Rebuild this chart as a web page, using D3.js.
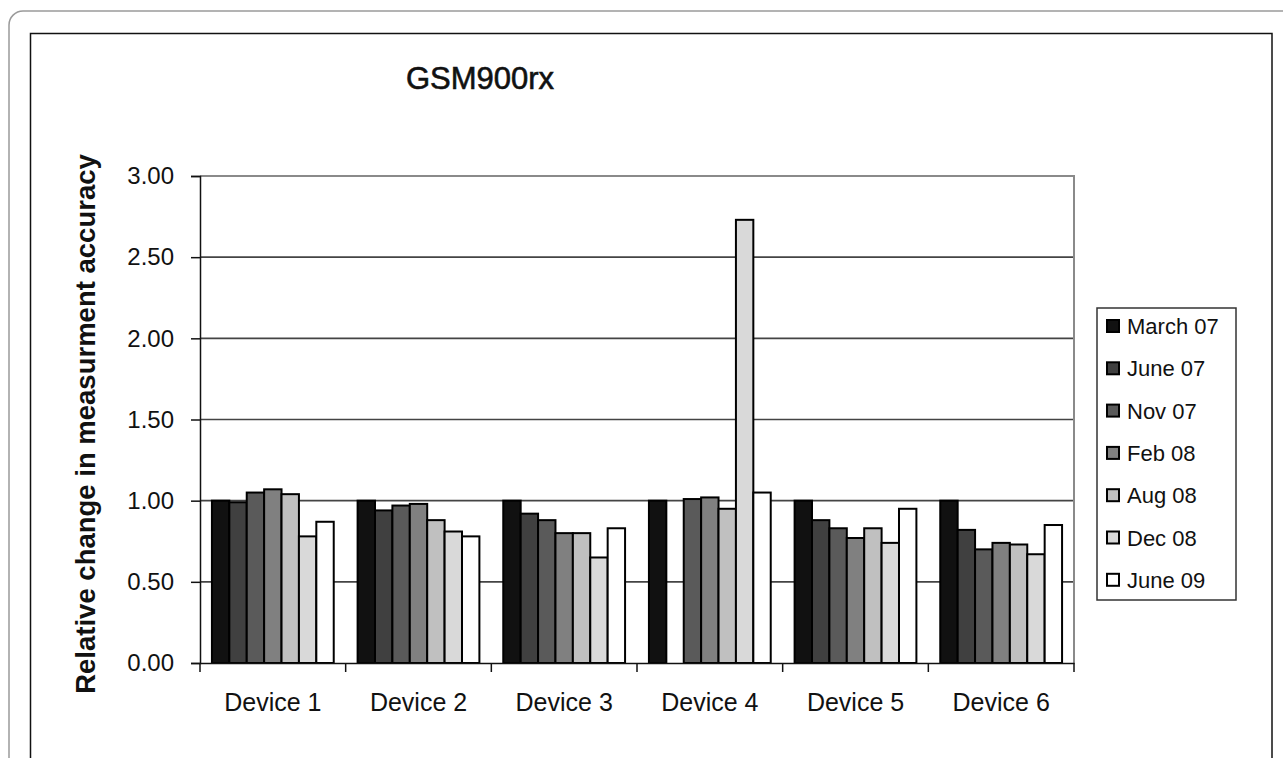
<!DOCTYPE html>
<html>
<head>
<meta charset="utf-8">
<script src="https://cdn.jsdelivr.net/npm/d3@7"></script>
<style>
  html, body { margin: 0; padding: 0; background: #fff; }
  svg { display: block; font-family: "Liberation Sans", Arial, sans-serif; }
</style>
</head>
<body>
<svg id="chart" width="1283" height="758"></svg>
<script>
// ---- data ----
const devices = ["Device 1", "Device 2", "Device 3", "Device 4", "Device 5", "Device 6"];
const seriesNames = ["March 07", "June 07", "Nov 07", "Feb 08", "Aug 08", "Dec 08", "June 09"];
const march07 = [1.00, 1.00, 1.00, 1.00, 1.00, 1.00];
const june07  = [0.99, 0.94, 0.92, null, 0.88, 0.82];
const nov07   = [1.05, 0.97, 0.88, 1.01, 0.83, 0.70];
const feb08   = [1.07, 0.98, 0.80, 1.02, 0.77, 0.74];
const aug08   = [1.04, 0.88, 0.80, 0.95, 0.83, 0.73];
const dec08   = [0.78, 0.81, 0.65, 2.73, 0.74, 0.67];
const june09  = [0.87, 0.78, 0.83, 1.05, 0.95, 0.85];
const yTickValues = [0, 0.5, 1.0, 1.5, 2.0, 2.5, 3.0];
const seriesColors = ["#111111", "#404040", "#5a5a5a", "#808080", "#c0c0c0", "#d9d9d9", "#ffffff"];

const seriesValues = [march07, june07, nov07, feb08, aug08, dec08, june09];

// ---- layout ----
const plot = { left: 200, right: 1074, top: 176, bottom: 663 };
const svg = d3.select("#chart");

// frames
svg.append("rect")
  .attr("x", 9).attr("y", 11).attr("width", 1300).attr("height", 800)
  .attr("rx", 14).attr("fill", "none").attr("stroke", "#9a9a9a").attr("stroke-width", 1.5);
svg.append("rect")
  .attr("x", 30.5).attr("y", 33.5).attr("width", 1241.5).attr("height", 800)
  .attr("fill", "none").attr("stroke", "#111").attr("stroke-width", 1.5);

// scales
const x0 = d3.scaleBand().domain(devices).range([plot.left, plot.right]).padding(0);
const x1 = d3.scaleBand().domain(seriesNames).range([0, x0.bandwidth()]).paddingInner(0).paddingOuter(0.686);
const y = d3.scaleLinear().domain([0, 3]).range([plot.bottom, plot.top]);

// gridlines
svg.append("g").selectAll("line")
  .data(yTickValues.filter(v => v > 0 && v < 3))
  .join("line")
  .attr("x1", plot.left).attr("x2", plot.right)
  .attr("y1", d => y(d)).attr("y2", d => y(d))
  .attr("stroke", "#444").attr("stroke-width", 1.6);

// plot border (top & right gray)
svg.append("path")
  .attr("d", `M${plot.left},${y(3)}H${plot.right}V${plot.bottom}`)
  .attr("fill", "none").attr("stroke", "#8a8a8a").attr("stroke-width", 2);

// bars
const groups = svg.append("g").selectAll("g")
  .data(devices)
  .join("g")
  .attr("transform", d => `translate(${x0(d)},0)`);

groups.selectAll("rect")
  .data((d, i) => seriesNames.map((s, j) => ({ s, j, v: seriesValues[j][i] })).filter(e => e.v !== null))
  .join("rect")
  .attr("x", e => x1(e.s))
  .attr("width", x1.bandwidth())
  .attr("y", e => y(e.v))
  .attr("height", e => y(0) - y(e.v))
  .attr("fill", e => seriesColors[e.j])
  .attr("stroke", "#000")
  .attr("stroke-width", 2);

// y axis
const yAxis = svg.append("g")
  .attr("transform", `translate(${plot.left},0)`)
  .call(d3.axisLeft(y).tickValues(yTickValues).tickFormat(d3.format(".2f")).tickSize(9).tickPadding(17));
yAxis.select(".domain").attr("stroke", "#111").attr("stroke-width", 1.5);
yAxis.selectAll(".tick line").attr("stroke", "#111").attr("stroke-width", 1.5);
yAxis.selectAll("text").attr("font-size", 24).attr("fill", "#111")
  .attr("font-family", "'Liberation Sans', Arial, sans-serif");

// x axis
const xAxis = svg.append("g")
  .attr("transform", `translate(0,${plot.bottom})`)
  .call(d3.axisBottom(x0).tickSize(0).tickPadding(30));
xAxis.select(".domain").attr("stroke", "#111").attr("stroke-width", 1.5);
xAxis.selectAll("text").attr("font-size", 25).attr("fill", "#111")
  .attr("font-family", "'Liberation Sans', Arial, sans-serif");
// boundary ticks
const boundaries = devices.map(d => x0(d)).concat([x0.range()[1]]);
xAxis.append("g").selectAll("line")
  .data(boundaries)
  .join("line")
  .attr("x1", d => d).attr("x2", d => d)
  .attr("y1", 0).attr("y2", 9)
  .attr("stroke", "#111").attr("stroke-width", 1.5);

// title
svg.append("text")
  .attr("x", 480).attr("y", 89)
  .attr("text-anchor", "middle")
  .attr("font-size", 31).attr("font-weight", "normal").attr("fill", "#111")
  .attr("stroke", "#111").attr("stroke-width", 0.6)
  .text("GSM900rx");

// y title
svg.append("text")
  .attr("transform", `translate(95,424) rotate(-90)`)
  .attr("text-anchor", "middle")
  .attr("font-size", 27.5).attr("font-weight", "bold").attr("fill", "#111")
  .text("Relative change in measurment accuracy");

// legend
const legend = { x: 1097, y: 308, w: 139, h: 292, rowTop: 326, rowStep: 42.3 };
svg.append("rect")
  .attr("x", legend.x).attr("y", legend.y).attr("width", legend.w).attr("height", legend.h)
  .attr("fill", "#fff").attr("stroke", "#333").attr("stroke-width", 1.5);
const items = svg.append("g").selectAll("g")
  .data(seriesNames)
  .join("g")
  .attr("transform", (d, i) => `translate(${legend.x}, ${legend.rowTop + i * legend.rowStep})`);
items.append("rect")
  .attr("x", 10).attr("y", -6).attr("width", 12).attr("height", 12)
  .attr("fill", (d, i) => seriesColors[i]).attr("stroke", "#000").attr("stroke-width", 2);
items.append("text")
  .attr("x", 30).attr("y", 8)
  .attr("font-size", 22).attr("fill", "#111")
  .text(d => d);
</script>
</body>
</html>
